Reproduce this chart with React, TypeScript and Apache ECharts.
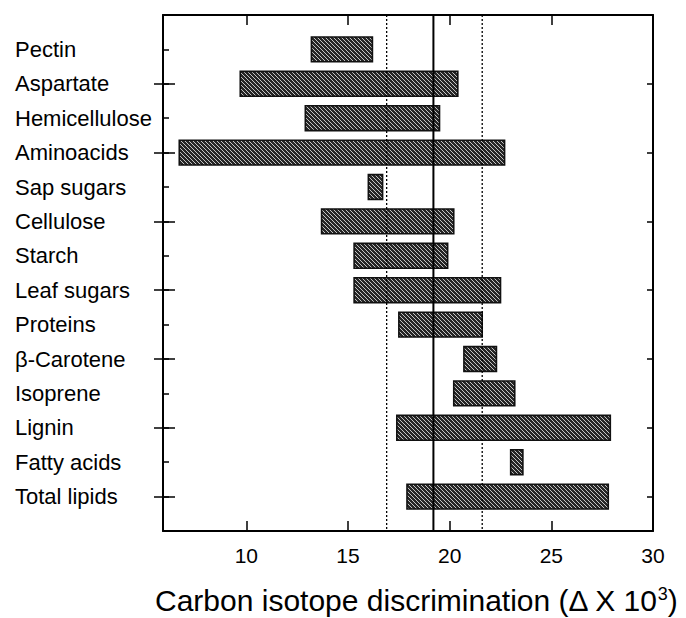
import React, { useEffect, useRef } from "react";
import * as echarts from "echarts";

const categories = [
  "Pectin",
  "Aspartate",
  "Hemicellulose",
  "Aminoacids",
  "Sap sugars",
  "Cellulose",
  "Starch",
  "Leaf sugars",
  "Proteins",
  "β-Carotene",
  "Isoprene",
  "Lignin",
  "Fatty acids",
  "Total lipids",
];
const rangeStart = [13.2, 9.7, 12.9, 6.7, 16.0, 13.7, 15.3, 15.3, 17.5, 20.7, 20.2, 17.4, 23.0, 17.9];
const rangeEnd = [16.2, 20.4, 19.5, 22.7, 16.7, 20.2, 19.9, 22.5, 21.6, 22.3, 23.2, 27.9, 23.6, 27.8];
const refLines = [16.9, 19.2, 21.6];
const refKinds = ["dotted", "solid", "dotted"];
const xTicks = [10, 15, 20, 25, 30];

const FONT = "'Liberation Sans', Arial, Helvetica, sans-serif";

function makePattern(): HTMLCanvasElement {
  const c = document.createElement("canvas");
  c.width = 8;
  c.height = 8;
  const ctx = c.getContext("2d")!;
  ctx.fillStyle = "#262626";
  ctx.fillRect(0, 0, 8, 8);
  ctx.strokeStyle = "#d6d6d6";
  ctx.lineWidth = 0.9;
  for (const k of [-8, -4, 0, 4, 8]) {
    ctx.beginPath();
    ctx.moveTo(k - 2, -2);
    ctx.lineTo(k + 10, 10);
    ctx.stroke();
  }
  return c;
}

export default function App() {
  const ref = useRef<HTMLDivElement>(null);
  useEffect(() => {
    if (!ref.current) return;
    const chart = echarts.init(ref.current, undefined, { renderer: "svg" });
    const axisData = ["", ...categories, ""];
    const last = axisData.length - 1;
    const pattern = { image: makePattern(), repeat: "repeat" };
    const barData = categories.map((_, i) => [rangeStart[i], rangeEnd[i], i + 1]);
    const refData = refLines.map((v, i) => [v, 0, i]);
    const isRow = (i: number) => i > 0 && i < last;
    const isMajor = (i: number) => isRow(i) && i % 2 === 0;

    const xCommon = {
      type: "value",
      min: 5.9,
      max: 30,
      splitNumber: 5,
      splitLine: { show: false },
      axisLine: { show: true, onZero: false, lineStyle: { color: "#000", width: 2 } },
      axisTick: { show: true, inside: true, length: 10, lineStyle: { color: "#000", width: 1.5 } },
    };
    const yCommon = {
      type: "category",
      data: axisData,
      inverse: true,
      boundaryGap: false,
      offset: 0,
      splitLine: { show: false },
    };

    chart.setOption({
      animation: false,
      backgroundColor: "#fff",
      grid: { left: 163, right: 33, top: 15, bottom: 87, containLabel: false, outerBoundsMode: "none" },
      xAxis: [
        {
          ...xCommon,
          position: "bottom",
          axisLabel: {
            show: true,
            margin: 14,
            fontSize: 21,
            color: "#000",
            fontFamily: FONT,
            formatter: (v: number) => (xTicks.indexOf(v) >= 0 ? String(v) : ""),
          },
          name: "Carbon isotope discrimination (Δ X 10{sup|3})",
          nameLocation: "middle",
          nameGap: 54,
          nameTextStyle: {
            fontSize: 30,
            color: "#000",
            fontFamily: FONT,
            padding: [0, 0, 0, 16],
            rich: {
              sup: { fontSize: 18, color: "#000", fontFamily: FONT, verticalAlign: "top", padding: [0, 0, 12, 0] },
            },
          },
        },
        {
          ...xCommon,
          position: "top",
          axisLabel: { show: false },
        },
      ],
      yAxis: [
        {
          ...yCommon,
          position: "left",
          axisLine: { show: true, onZero: false, lineStyle: { color: "#000", width: 2 } },
          axisTick: {
            show: true,
            inside: true,
            length: 6,
            interval: (i: number) => isRow(i),
            lineStyle: { color: "#000", width: 1.5 },
          },
          axisLabel: {
            show: true,
            interval: 0,
            align: "left",
            margin: 148,
            fontSize: 22,
            color: "#000",
            fontFamily: FONT,
          },
        },
        {
          ...yCommon,
          position: "left",
          axisLine: { show: false, onZero: false },
          axisTick: {
            show: true,
            inside: false,
            length: 9,
            interval: (i: number) => isMajor(i),
            lineStyle: { color: "#000", width: 1.5 },
          },
          axisLabel: { show: false },
        },
        {
          ...yCommon,
          position: "left",
          axisLine: { show: false, onZero: false },
          axisTick: {
            show: true,
            inside: true,
            length: 12,
            interval: (i: number) => isMajor(i),
            lineStyle: { color: "#000", width: 1.5 },
          },
          axisLabel: { show: false },
        },
        {
          ...yCommon,
          position: "right",
          axisLine: { show: true, onZero: false, lineStyle: { color: "#000", width: 2 } },
          axisTick: {
            show: true,
            inside: true,
            length: 6,
            interval: (i: number) => isMajor(i),
            lineStyle: { color: "#000", width: 1.5 },
          },
          axisLabel: { show: false },
        },
      ],
      series: [
        {
          type: "custom",
          name: "ranges",
          xAxisIndex: 0,
          yAxisIndex: 0,
          encode: { x: [0, 1], y: 2 },
          data: barData,
          z: 2,
          renderItem: (params: any, api: any) => {
            const row = api.value(2);
            const s = api.coord([api.value(0), row]);
            const e = api.coord([api.value(1), row]);
            const h = api.size([0, 1])[1] * 0.72;
            return {
              type: "rect",
              shape: { x: s[0], y: s[1] - h / 2, width: e[0] - s[0], height: h },
              style: { fill: pattern, stroke: "#111", lineWidth: 1.6 },
            };
          },
        },
        {
          type: "custom",
          name: "reference",
          xAxisIndex: 0,
          yAxisIndex: 0,
          encode: { x: 0, y: 1 },
          data: refData,
          z: 3,
          renderItem: (params: any, api: any) => {
            const idx = api.value(2);
            const p = api.coord([api.value(0), 0]);
            const cs = params.coordSys;
            const solid = refKinds[idx] === "solid";
            return {
              type: "line",
              shape: { x1: p[0], y1: cs.y, x2: p[0], y2: cs.y + cs.height },
              style: {
                stroke: "#000",
                lineWidth: solid ? 2 : 1.3,
                lineDash: solid ? null : [2, 2],
              },
            };
          },
        },
      ],
    });
    return () => chart.dispose();
  }, []);
  return (
    <div
      ref={ref}
      style={{ position: "absolute", left: 0, top: 0, width: 686, height: 618, background: "#fff" }}
    />
  );
}
